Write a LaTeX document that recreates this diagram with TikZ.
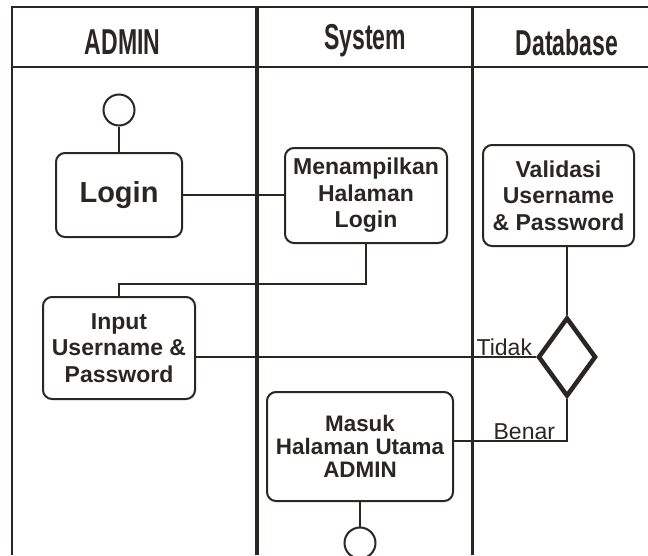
\documentclass[tikz,border=0pt]{standalone}
\usepackage{fontspec}
\setmainfont{Liberation Sans}
\newfontfamily\lanefont[FakeStretch=0.64]{Liberation Sans}
\usetikzlibrary{shapes.geometric, positioning}
\definecolor{ink}{RGB}{43,38,36}

\begin{document}
\begin{tikzpicture}[x=1pt, y=-1pt, line width=2pt, color=ink,
    act/.style={rectangle, rounded corners=9pt, draw, align=center, inner sep=2pt, font=\fontsize{23}{26.5}\selectfont\bfseries},
    lane/.style={anchor=base, font=\lanefont\fontsize{36}{40}\selectfont\bfseries},
    guard/.style={anchor=base east, inner sep=0pt, font=\fontsize{23}{26}\selectfont},
    dot/.style={circle, draw, minimum size=31pt, inner sep=0pt}]
    \useasboundingbox (0,0) rectangle (648,555);
    \fill[white] (0,0) rectangle (648,555);

    % Lanes
    \draw[line width=2.5pt] (12,555) -- (12,7) -- (648,7);
    \draw (12,67) -- (648,67);
    \draw[line width=4pt] (257,7) -- (257,555);
    \draw[line width=3pt] (472,7) -- (472,555);
    \node [lane] (hadmin) at (122.5,54) {ADMIN};
    \node [lane] (hsystem) at (365,49) {System};
    \node [lane] (hdb) at (567,55) {Database};

    % Nodes
    \node [dot] (start) at (119,110) {};
    \node [act, minimum width=126pt, minimum height=84pt, font=\fontsize{29}{32}\selectfont\bfseries] (login) at (119,195) {Login};
    \node [act, minimum width=162pt, minimum height=95pt] (tampil) at (366,195.5) {Menampilkan\\Halaman\\Login};
    \node [act, minimum width=151pt, minimum height=101pt] (validasi) at (558.5,195.5) {Validasi\\Username\\\& Password};
    \node [act, minimum width=152pt, minimum height=102pt] (input) at (119,348) {Input\\Username \&\\Password};
    \node [diamond, draw, line width=4.5pt, minimum width=58pt, minimum height=79pt, inner sep=0pt] (cek) at (567,357) {};
    \node [act, minimum width=186pt, minimum height=109pt, font=\fontsize{22.4}{23}\selectfont\bfseries] (masuk) at (360,446.5) {Masuk\\Halaman Utama\\ADMIN};
    \node [dot] (stop) at (360,543) {};

    % Texts
    \node [guard] (tidak) at (533,355) {Tidak};
    \node [guard] (benar) at (556,439) {Benar};

    % Arrows
    \draw (start) -- (login);
    \draw (login.east) -- (login.east -| tampil.west);
    \draw (tampil.south) -- ++(0,40) -| (input.north);
    \draw (cek.west) -- (cek.west -| input.east);
    \draw (validasi.south -| cek.north) -- (cek.north);
    \draw (cek.south) |- ([yshift=6pt]masuk.east);
    \draw (masuk) -- (stop);

\end{tikzpicture}
\end{document}
